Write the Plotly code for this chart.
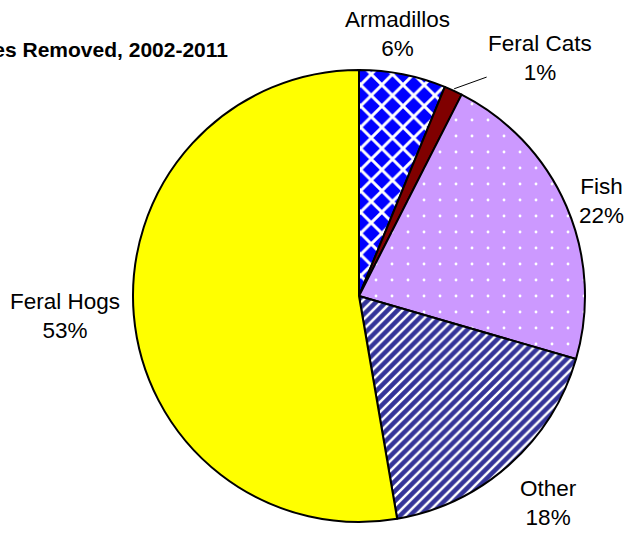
import math
import plotly.graph_objects as go

labels = ["Armadillos", "Feral Cats", "Fish", "Other", "Feral Hogs"]
values = [6.2, 1.3, 22.0, 17.8, 52.7]
colors = ["#0000FF", "#800000", "#CC99FF", "#333399", "#FFFF00"]
pat_shapes = ["x", "", ".", "/", ""]
pat_fg = ["#FFFFFF", "#800000", "#FFFFFF", "#FFFFFF", "#FFFF00"]
pat_bg = ["#0000FF", "#800000", "#CC99FF", "#333399", "#FFFF00"]
pat_size = [15, 8, 16, 7, 8]
pat_solid = [0.35, 0.3, 0.025, 0.35, 0.3]
title_text = "Invasive Species Removed, 2002-2011"

W, H = 630, 533
cx, cy, r = 359, 296, 226
gap = 12

fig = go.Figure(go.Pie(
    labels=labels, values=values, sort=False, direction="clockwise", rotation=0,
    marker=dict(colors=colors, line=dict(color="black", width=2),
                pattern=dict(shape=pat_shapes, fgcolor=pat_fg, bgcolor=pat_bg,
                             size=pat_size, solidity=pat_solid, fillmode="replace")),
    textinfo="none", hoverinfo="label+percent",
    domain=dict(x=[(cx - r) / W, (cx + r) / W], y=[1 - (cy + r) / H, 1 - (cy - r) / H]),
    showlegend=False,
))

total = sum(values)
cum = 0
annots = []
for lab, v in zip(labels, values):
    mid = (cum + v / 2) / total
    cum += v
    th = 2 * math.pi * mid
    s, c = math.sin(th), math.cos(th)
    pct = f"{round(100 * v / total)}%"
    txt = f"{lab}<br>{pct}"
    if lab == "Feral Cats":
        px = cx + (r + 2) * s
        py = cy - (r + 2) * c
        annots.append(dict(x=px / W, y=1 - py / H, xref="paper", yref="paper", text=txt,
                           showarrow=True, arrowhead=0, arrowwidth=1, arrowcolor="black",
                           ax=86, ay=-31, align="center", font=dict(size=22.5)))
    else:
        R = r + gap
        px = cx + R * s
        py = cy - R * c
        xa = "left" if s > 0.3 else ("right" if s < -0.3 else "center")
        ya = "bottom" if c > 0.5 else ("top" if c < -0.5 else "middle")
        if lab == "Armadillos":
            px -= 8
        annots.append(dict(x=px / W, y=1 - py / H, xref="paper", yref="paper", text=txt,
                           showarrow=False, xanchor=xa, yanchor=ya,
                           align="center", font=dict(size=22.5)))

fig.update_layout(
    width=W, height=H, margin=dict(l=0, r=0, t=0, b=0),
    paper_bgcolor="white", plot_bgcolor="white",
    font=dict(family="Liberation Sans, Arial, sans-serif", color="black"),
    title=dict(text=f"<b>{title_text}</b>", x=228 / W, xanchor="right", xref="container",
               y=1 - 50 / H, yanchor="middle", yref="container",
               font=dict(size=21, color="black")),
    annotations=annots,
)

fig.write_html("out.html", config={"displayModeBar": False},
               post_script="document.body.style.margin='0';")
